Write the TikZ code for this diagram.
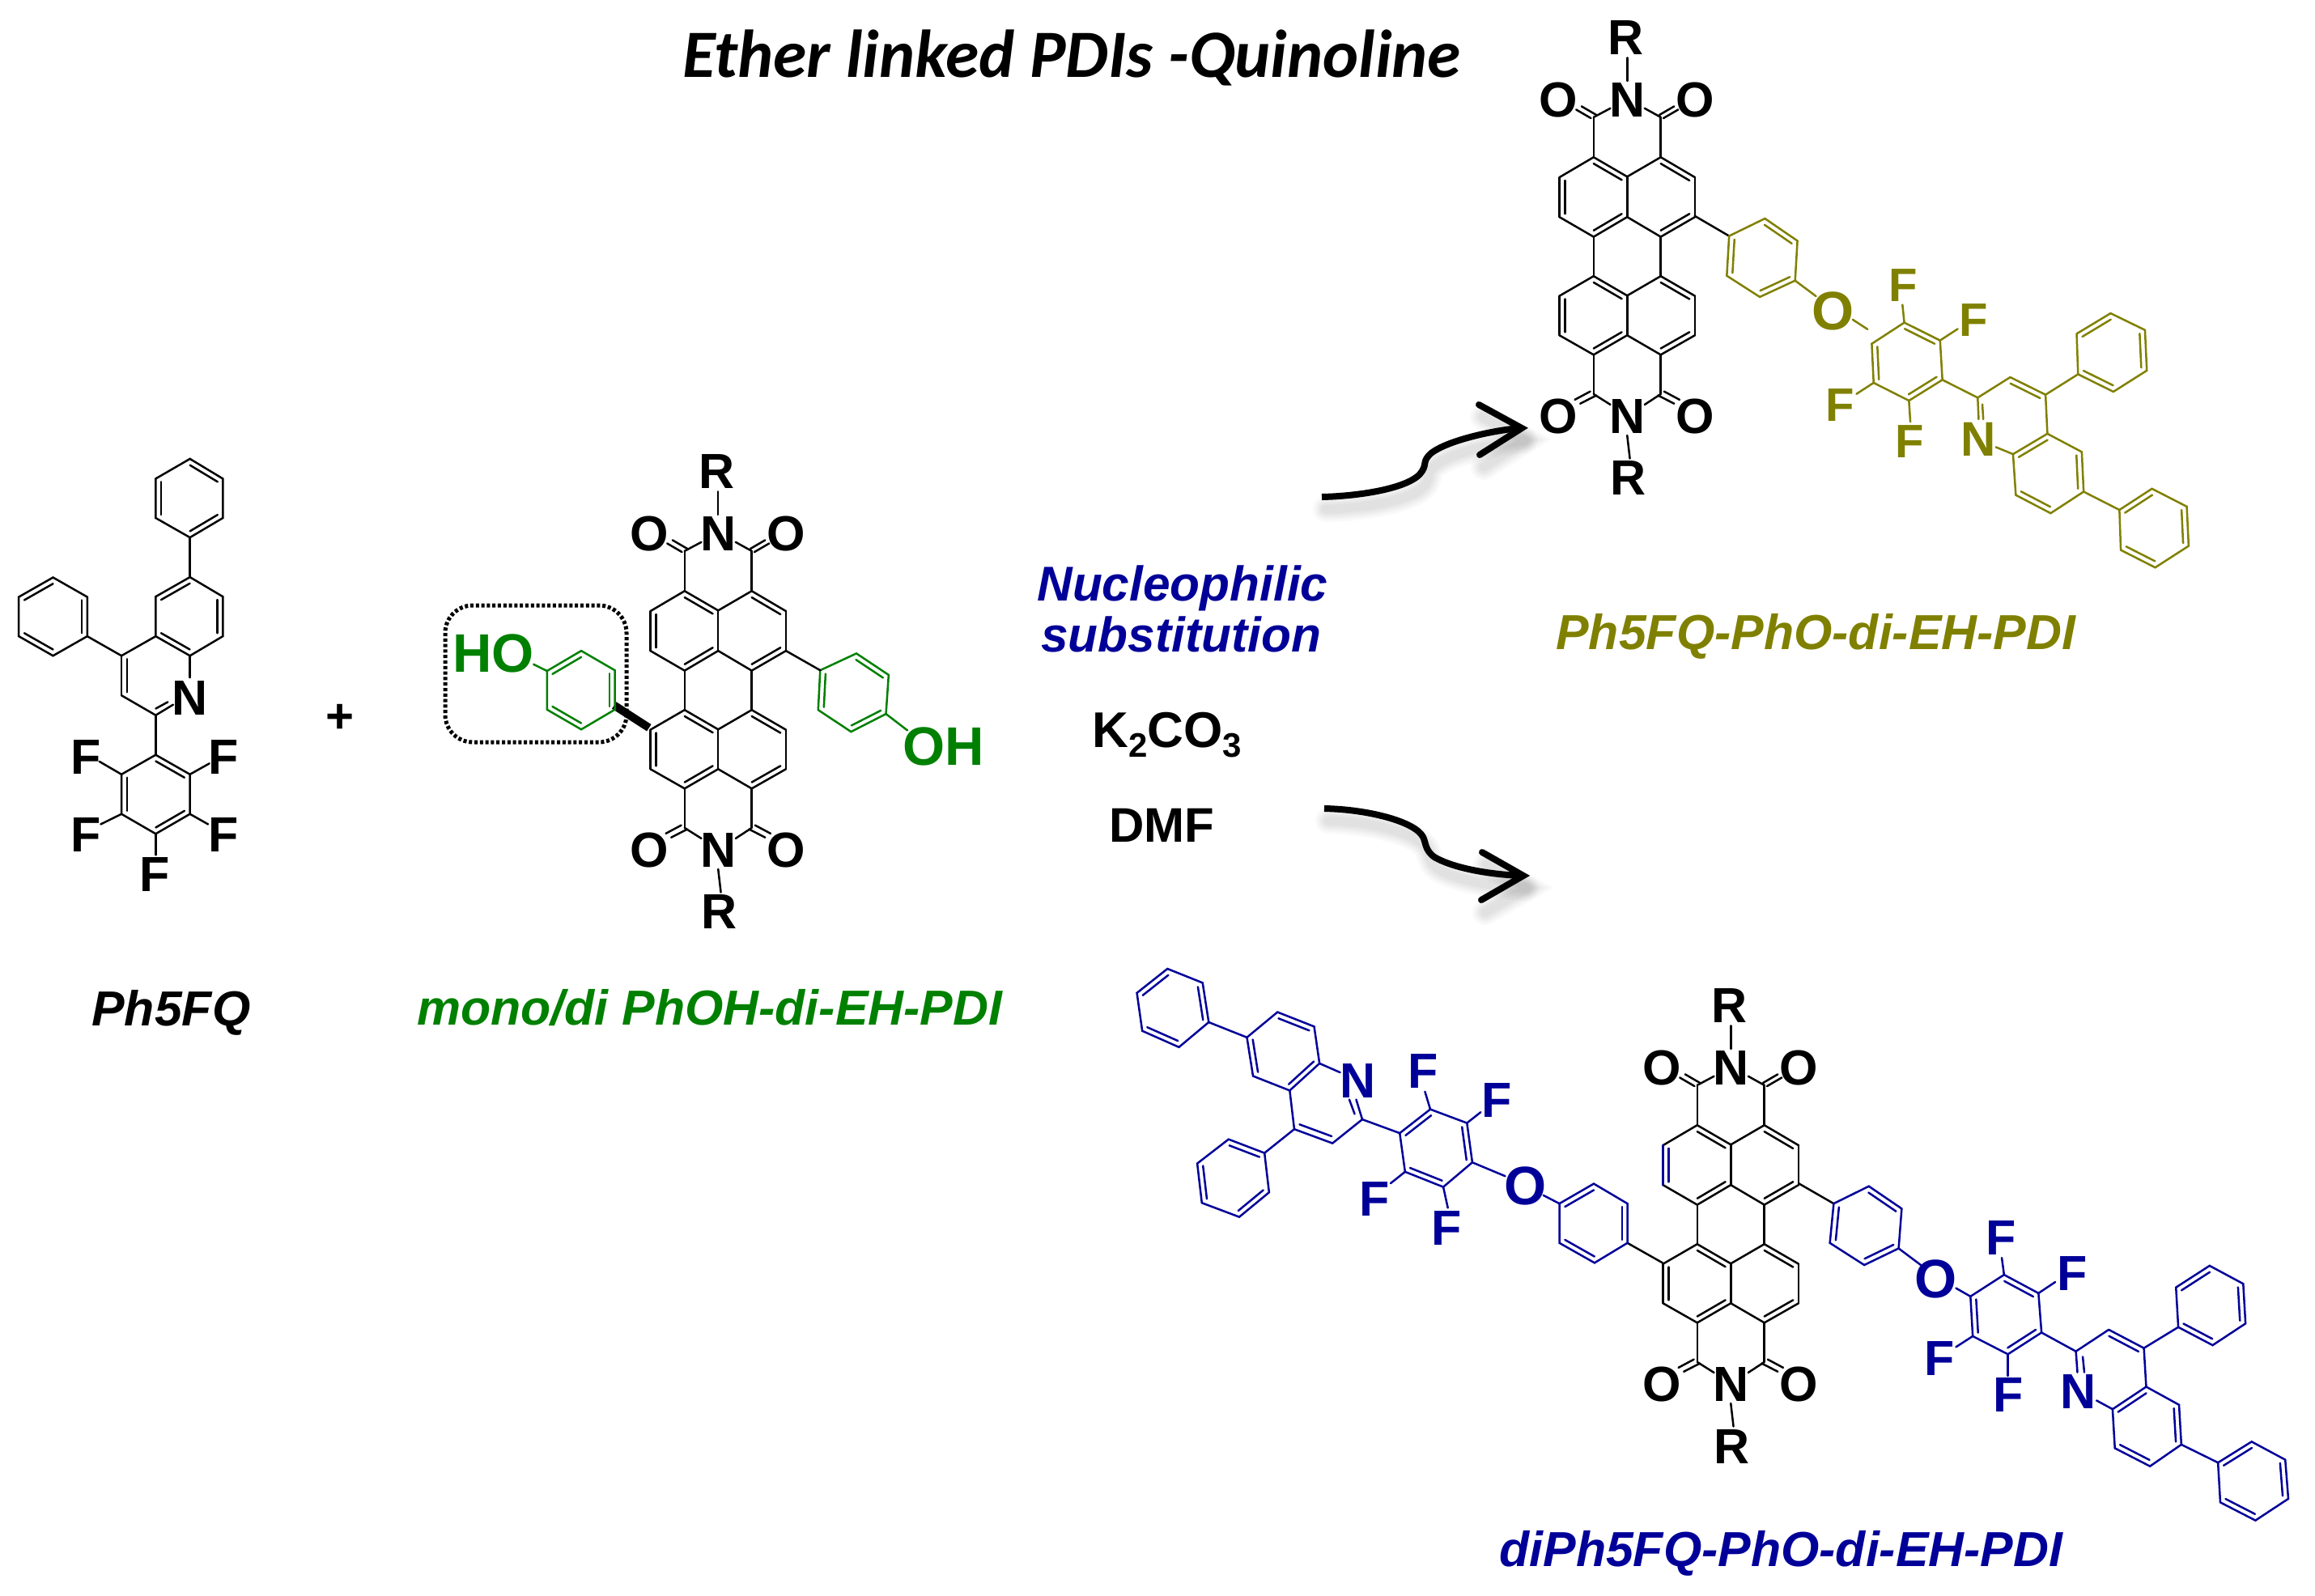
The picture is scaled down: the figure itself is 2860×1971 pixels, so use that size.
\documentclass[tikz,border=0pt]{standalone}
\usepackage{fontspec}
\usetikzlibrary{calc}
\setmainfont{Liberation Sans}
\newfontfamily\calibfont{Carlito}
\definecolor{mygreen}{HTML}{008000}
\definecolor{myolive}{HTML}{808000}
\definecolor{myblue}{HTML}{000099}
\tikzset{
  bond/.style={line width=1.25pt,line cap=round,line join=miter},
  atom/.style={inner sep=0pt,font=\fontsize{#1}{#1}\selectfont\bfseries},
  atom/.default=30.5,
  label text/.style={inner sep=0pt,anchor=base west,font=\fontsize{#1}{#1}\selectfont\bfseries\itshape},
  reagent/.style={inner sep=0pt,anchor=base west,font=\fontsize{#1}{#1}\selectfont\bfseries},
  fatarrow/.style={line width=4pt,line cap=round,line join=miter},
}
\newcommand{\bnd}[2]{\draw[bond] (#1) -- (#2);}
\newcommand{\dbl}[3]{\draw[bond] (#1) -- (#2);\draw[bond] ($(#1)!.16!(#3)$) -- ($(#2)!.16!(#3)$);}
\newcommand{\hexa}[6]{%
  \coordinate (cc) at ($(#1)!.5!(#4)$);
  \draw[bond] (#1) -- (#2) -- (#3) -- (#4) -- (#5) -- (#6) -- cycle;
  \draw[bond] ($(#1)!.16!(cc)$) -- ($(#2)!.16!(cc)$);
  \draw[bond] ($(#3)!.16!(cc)$) -- ($(#4)!.16!(cc)$);
  \draw[bond] ($(#5)!.16!(cc)$) -- ($(#6)!.16!(cc)$);}
% perylene diimide, in the frame of the left-hand molecule
\newcommand{\PDI}[1]{%
  % upper naphthalene
  \dbl{1020,466}{1070,525}{1020,587}
  \bnd{1020,466}{969,527}
  \dbl{969,527}{969,647}{1020,587}
  \bnd{969,647}{1020,707}
  \dbl{1020,707}{1070,647}{1020,587}
  \bnd{1070,647}{1070,525}
  \bnd{1070,525}{1120,466}
  \dbl{1120,466}{1171,527}{1120,587}
  \bnd{1171,527}{1171,647}
  \dbl{1171,647}{1120,707}{1120,587}
  \bnd{1120,707}{1070,647}
  % lower naphthalene
  \dbl{1020,826}{1070,885}{1020,945}
  \bnd{1020,826}{969,886}
  \dbl{969,886}{969,1005}{1020,945}
  \bnd{969,1005}{1020,1064}
  \dbl{1020,1064}{1070,1005}{1020,945}
  \bnd{1070,1005}{1070,885}
  \bnd{1070,885}{1120,826}
  \dbl{1120,826}{1171,886}{1120,945}
  \bnd{1171,886}{1171,1005}
  \dbl{1171,1005}{1120,1064}{1120,945}
  \bnd{1120,1064}{1070,1005}
  \bnd{1020,707}{1020,826}
  \bnd{1120,707}{1120,826}
  % imides
  \bnd{1020,466}{1020,345}\bnd{1120,466}{1120,345}
  \bnd{1020,345}{1045,318}\bnd{1120,345}{1096,318}
  \bnd{1002,312}{1024,338}\bnd{994,322}{1016,348}
  \bnd{1140,312}{1118,338}\bnd{1146,322}{1124,348}
  \bnd{1070,165}{1070,235}
  \bnd{1020,1064}{1020,1183}\bnd{1120,1064}{1120,1183}
  \bnd{1020,1183}{1045,1215}\bnd{1120,1183}{1096,1215}
  \bnd{1015,1175}{992,1200}\bnd{1024,1187}{1000,1212}
  \bnd{1125,1175}{1148,1200}\bnd{1116,1187}{1140,1212}
  \bnd{1070,1308}{1074,1378}
  \node[atom] (#1Nt) at (1070,292) {N};
  \node[atom] (#1Olt) at (968,292) {O};
  \node[atom] (#1Ort) at (1171,292) {O};
  \node[atom] (#1Rt) at (1068,105) {R};
  \node[atom] (#1Nb) at (1070,1250) {N};
  \node[atom] (#1Olb) at (968,1250) {O};
  \node[atom] (#1Orb) at (1171,1250) {O};
  \node[atom] (#1Rb) at (1072,1438) {R};
}
\def\arrowUp{(1633,614) .. controls (1680,613) and (1745,603) .. (1757,582) .. controls (1763,572) and (1757,570) .. (1768,560) .. controls (1790,543) and (1850,531) .. (1878,529)}
\def\headUp{(1827,500) -- (1880,529) -- (1828,562)}
\def\arrowDn{(1636,999) .. controls (1690,1000) and (1748,1015) .. (1758,1034) .. controls (1762,1042) and (1760,1050) .. (1772,1059) .. controls (1800,1075) and (1850,1081) .. (1880,1082)}
\def\headDn{(1831,1053) -- (1882,1082) -- (1830,1112)}
\begin{document}
\begin{tikzpicture}[x=0.5pt,y=-0.5pt]
\useasboundingbox (0,0) rectangle (2860,1971);
\fill[white] (0,0) rectangle (2860,1971);

% title
\node[inner sep=0pt,anchor=base west,font=\fontsize{41.8}{41.8}\selectfont\calibfont\bfseries\itshape] (title) at (843,95) {Ether linked PDIs -Quinoline};

% ---------- Ph5FQ ----------
\begin{scope}[shift={(0,540)},xscale=.8292,yscale=.4082]
\hexa{283,66}{332,126}{332,245}{283,304}{232,245}{232,126}
\bnd{283,304}{283,424}
\hexa{232,483}{283,424}{332,483}{332,603}{283,662}{232,603}
\bnd{232,603}{181,662}
\dbl{181,662}{181,782}{232,722}
\bnd{181,782}{232,842}
\bnd{232,842}{258,810}\bnd{232,822}{250,802}
\bnd{283,662}{283,728}
\bnd{181,662}{130,603}
\hexa{28,484}{79,425}{130,484}{130,603}{79,662}{28,603}
\bnd{232,842}{232,962}
\hexa{232,962}{283,1021}{283,1141}{232,1201}{181,1141}{181,1021}
\bnd{181,1021}{148,982}\bnd{283,1021}{312,988}
\bnd{181,1141}{150,1172}\bnd{283,1141}{310,1172}
\bnd{232,1201}{232,1265}
\node[atom] (qN) at (283,790) {N};
\node[atom] (qF1) at (128,968) {F};
\node[atom] (qF2) at (333,968) {F};
\node[atom] (qF3) at (128,1205) {F};
\node[atom] (qF4) at (333,1205) {F};
\node[atom] (qF5) at (230,1325) {F};
\node[atom=30] (plus) at (507,853) {+};
\PDI{a}
\draw[bond,line width=5pt,line cap=butt] (915,812) -- (967,880);
\begin{scope}[color=mygreen]
\hexa{815,708}{866,647}{916,706}{916,825}{866,885}{815,825}
\bnd{795,688}{815,708}
\hexa{1276,655}{1324,720}{1320,838}{1268,892}{1219,826}{1222,706}
\bnd{1320,838}{1352,888}
\node[atom=33.5,text=mygreen] (HOl) at (735,655) {HO};
\node[atom=33.5,text=mygreen] (OHr) at (1406,937) {OH};
\end{scope}
\bnd{1171,647}{1222,706}
\end{scope}
% dotted frame
\draw[line width=2.5pt,dash pattern=on 2pt off 1.4pt,rounded corners=17pt] (550,748) rectangle (774,917);
\node[label text=30.4] (lq) at (113,1267) {Ph5FQ};
\node[label text=30.4,text=mygreen] (lpdi) at (515,1266) {mono/di PhOH-di-EH-PDI};

% ---------- conditions ----------
\node[label text=30.2,text=myblue] (c1) at (1281,742) {Nucleophilic};
\node[label text=30.2,text=myblue] (c2) at (1286,805) {substitution};
\node[reagent=31] (c3) at (1349,923) {K\raisebox{-6pt}{\fontsize{21}{21}\selectfont 2}CO\raisebox{-6pt}{\fontsize{21}{21}\selectfont 3}};
\node[reagent=30] (c4) at (1370,1040) {DMF};

% ---------- arrows ----------
\foreach \w in {16,13,10.5,8,5.5}{
  \draw[black,opacity=.022,line width=\w pt,line cap=round,shift={(5,15)}] \arrowUp;
  \draw[black,opacity=.022,line width=\w pt,line cap=round,shift={(5,15)}] \headUp;
  \draw[black,opacity=.022,line width=\w pt,line cap=round,shift={(5,15)}] \arrowDn;
  \draw[black,opacity=.022,line width=\w pt,line cap=round,shift={(5,15)}] \headDn;
}
\draw[fatarrow,line cap=butt] \arrowUp;
\draw[fatarrow] \headUp;
\draw[fatarrow,line cap=butt] \arrowDn;
\draw[fatarrow] \headDn;

% ---------- Ph5FQ-PhO-di-EH-PDI ----------
\begin{scope}[shift={(1123,4)},xscale=.8292,yscale=.4082]
\PDI{b}
\end{scope}
\begin{scope}[shift={(1840,0)},xscale=.574,yscale=.4592]
\bnd{442,581}{516,635}
\begin{scope}[color=myolive]
\hexa{593,588}{663,648}{658,755}{582,799}{511,742}{516,635}
\bnd{658,755}{703,797}
\bnd{782,860}{814,886}
\hexa{893,868}{970,916}{975,1022}{903,1078}{827,1030}{823,925}
\bnd{893,868}{889,820}\bnd{970,916}{1008,885}\bnd{827,1030}{790,1060}\bnd{903,1078}{906,1135}
\bnd{975,1022}{1051,1070}
\bnd{1051,1070}{1121,1015}
\dbl{1121,1015}{1197,1062}{1124,1120}
\bnd{1197,1062}{1201,1167}
\bnd{1051,1070}{1053,1128}\bnd{1061,1088}{1063,1128}
\bnd{1090,1203}{1127,1222}
\bnd{1197,1062}{1267,1007}
\hexa{1264,898}{1337,843}{1411,888}{1415,997}{1343,1054}{1267,1007}
\hexa{1127,1222}{1201,1167}{1275,1216}{1279,1323}{1208,1381}{1133,1332}
\bnd{1279,1323}{1356,1372}
\hexa{1356,1372}{1426,1315}{1501,1363}{1505,1469}{1433,1527}{1359,1480}
\node[atom=33.5,text=myolive] (bO) at (740,838) {O};
\node[atom=29,text=myolive] (bF1) at (890,767) {F};
\node[atom=29,text=myolive] (bF2) at (1042,862) {F};
\node[atom=29,text=myolive] (bF3) at (755,1090) {F};
\node[atom=29,text=myolive] (bF4) at (905,1188) {F};
\node[atom=30,text=myolive] (bN) at (1053,1183) {N};
\end{scope}
\end{scope}
\node[label text=30.4,text=myolive] (lb) at (1922,802) {Ph5FQ-PhO-di-EH-PDI};

% ---------- diPh5FQ-PhO-di-EH-PDI ----------
\begin{scope}[shift={(1251,1200)},xscale=.8292,yscale=.4082]
\PDI{c}
\begin{scope}[color=myblue]
\dbl{969,527}{969,647}{1020,587}
\end{scope}
\end{scope}
\begin{scope}[shift={(1380,1180)},xscale=.9439,yscale=.4464]
\bnd{892,632}{938,688}
\bnd{714,852}{668,797}
\begin{scope}[color=myblue]
% right arm
\hexa{984,640}{1027,702}{1023,812}{978,858}{933,797}{938,688}
\bnd{1023,812}{1052,858}
\bnd{1098,922}{1117,945}
\hexa{1161,885}{1206,936}{1210,1045}{1166,1105}{1120,1055}{1117,945}
\bnd{1161,885}{1158,838}\bnd{1206,936}{1228,905}\bnd{1120,1055}{1098,1085}\bnd{1166,1105}{1166,1165}
\bnd{1210,1045}{1255,1097}
\bnd{1255,1097}{1298,1037}
\dbl{1298,1037}{1344,1088}{1300,1147}
\bnd{1344,1088}{1347,1195}
\bnd{1255,1097}{1257,1155}\bnd{1264,1112}{1266,1155}
\bnd{1282,1233}{1303,1257}
\bnd{1344,1088}{1389,1030}
\hexa{1386,920}{1430,860}{1474,910}{1477,1020}{1434,1080}{1389,1030}
\hexa{1303,1257}{1347,1195}{1390,1245}{1393,1355}{1352,1415}{1306,1365}
\bnd{1393,1355}{1441,1405}
\hexa{1441,1405}{1485,1347}{1529,1397}{1533,1505}{1490,1565}{1444,1515}
\node[atom=33.5,text=myblue] (cO2) at (1072,897) {O};
\node[atom=30.5,text=myblue] (cF5) at (1157,782) {F};
\node[atom=30.5,text=myblue] (cF6) at (1250,882) {F};
\node[atom=30.5,text=myblue] (cF7) at (1076,1117) {F};
\node[atom=30.5,text=myblue] (cF8) at (1167,1218) {F};
\node[atom=30.5,text=myblue] (cN2) at (1258,1208) {N};
% left arm
\hexa{624,633}{579,688}{579,797}{625,852}{668,797}{668,688}
\bnd{579,688}{558,665}
\bnd{508,612}{465,574}
\hexa{458,465}{465,574}{427,642}{377,600}{370,493}{410,427}
\bnd{410,427}{403,378}\bnd{458,465}{476,435}\bnd{377,600}{358,632}\bnd{427,642}{433,700}
\bnd{370,493}{321,455}
\bnd{321,455}{282,521}
\dbl{282,521}{232,482}{275,400}
\bnd{232,482}{226,375}
\bnd{321,455}{313,400}\bnd{311,440}{304,400}
\bnd{265,300}{292,325}
\bnd{232,482}{193,548}
\hexa{193,548}{146,510}{105,577}{111,686}{160,725}{199,657}
\hexa{226,375}{265,300}{258,198}{210,158}{170,228}{178,335}
\bnd{170,228}{120,186}
\hexa{81,255}{33,210}{26,105}{66,38}{112,77}{120,186}
\node[atom=33.5,text=myblue] (cO1) at (534,640) {O};
\node[atom=30.5,text=myblue] (cF1) at (401,322) {F};
\node[atom=30.5,text=myblue] (cF2) at (497,402) {F};
\node[atom=30.5,text=myblue] (cF3) at (337,675) {F};
\node[atom=30.5,text=myblue] (cF4) at (431,755) {F};
\node[atom=30.5,text=myblue] (cN1) at (315,348) {N};
\end{scope}
\end{scope}
\node[label text=30.4,text=myblue] (lc) at (1852,1935) {diPh5FQ-PhO-di-EH-PDI};
\end{tikzpicture}
\end{document}
